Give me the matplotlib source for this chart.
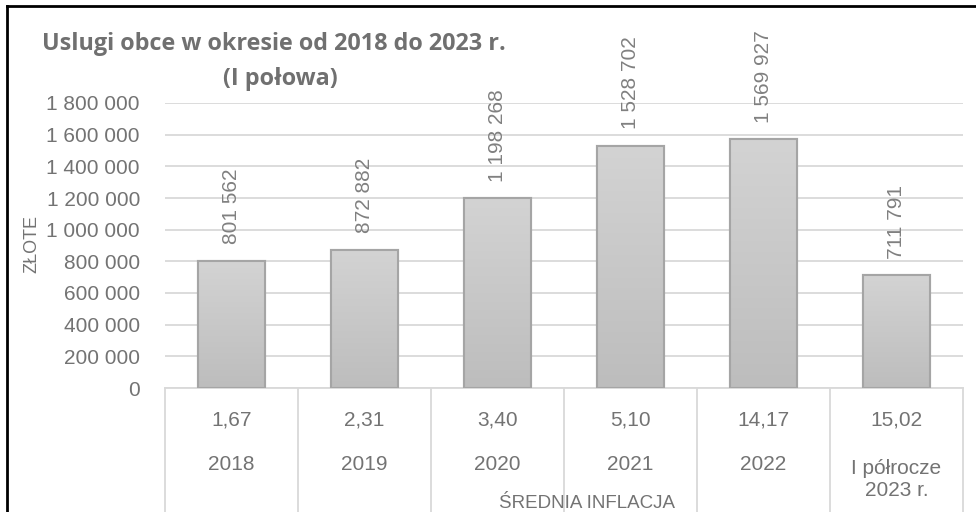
import matplotlib
matplotlib.use("Agg")
import matplotlib.pyplot as plt
import numpy as np
from matplotlib.lines import Line2D
from matplotlib.colors import LinearSegmentedColormap

categories = ["2018", "2019", "2020", "2021", "2022", "I półrocze\n2023 r."]
inflation = ["1,67", "2,31", "3,40", "5,10", "14,17", "15,02"]
values = [801562, 872882, 1198268, 1528702, 1569927, 711791]
yticks = [0, 200000, 400000, 600000, 800000, 1000000, 1200000, 1400000, 1600000, 1800000]

def fmt(v):
    return f"{v:,}".replace(",", " ")

W, H = 976, 512
fig = plt.figure(figsize=(W / 100, H / 100), dpi=100)
plt.rcParams['font.family'] = ['Liberation Sans', 'DejaVu Sans']

x0, x1 = 165, 963
y0, y1 = 388, 103
ax = fig.add_axes([x0 / W, 1 - y0 / H, (x1 - x0) / W, (y0 - y1) / H])
n = len(values)

grid_c = "#d9d9d9"
text_c = "#737373"
for t in yticks:
    ax.axhline(t, color=grid_c, lw=1.3, zorder=0)

xs = np.arange(n)
bars = ax.bar(xs, values, width=0.5, color="#c8c8c8", edgecolor="#a5a5a5", linewidth=1.5, zorder=2)
grad = np.linspace(0, 1, 100).reshape(-1, 1)
cmap = LinearSegmentedColormap.from_list("g", ["#bdbdbd", "#d3d3d3"])
for b in bars:
    bx, by, bw, bh = b.get_x(), b.get_y(), b.get_width(), b.get_height()
    im = ax.imshow(grad, extent=[bx, bx + bw, by, by + bh], origin="lower",
                   cmap=cmap, aspect="auto", zorder=2.5)
    im.set_clip_path(b)
    ax.add_patch(plt.Rectangle((bx, by), bw, bh, fill=False, edgecolor="#a5a5a5", lw=1.5, zorder=3))

for xi, v in zip(xs, values):
    ax.annotate(fmt(v), (xi, v), xytext=(0, 12), textcoords="offset points",
                rotation=90, ha="center", va="bottom", fontsize=15, color="#808080",
                annotation_clip=False, zorder=4)

ax.set_xlim(-0.5, n - 0.5)
ax.set_ylim(0, 1800000)
ax.set_yticks(yticks)
ax.set_yticklabels([fmt(t) for t in yticks], fontsize=15, color=text_c)
ax.tick_params(axis="y", length=0, pad=18)
ax.set_xticks([])
for s in ax.spines.values():
    s.set_visible(False)

# category table below
tr = ax.get_xaxis_transform()
ybot = -(H - y0) / (y0 - y1)
for b in np.arange(-0.5, n, 1.0):
    ax.add_line(Line2D([b, b], [0, ybot], transform=tr, color=grid_c, lw=1.3, clip_on=False))
ax.add_line(Line2D([-0.5, n - 0.5], [0, 0], transform=tr, color=grid_c, lw=1.3, clip_on=False))

def yfrac(py):
    return (y0 - py) / (y0 - y1)

for xi, inf, cat in zip(xs, inflation, categories):
    ax.text(xi, yfrac(420), inf, transform=tr, ha="center", va="center", fontsize=15, color=text_c)
    if "\n" in cat:
        a, b2 = cat.split("\n")
        ax.text(xi, yfrac(469), a, transform=tr, ha="center", va="center", fontsize=15, color=text_c)
        ax.text(xi, yfrac(490), b2, transform=tr, ha="center", va="center", fontsize=15, color=text_c)
    else:
        ax.text(xi, yfrac(465), cat, transform=tr, ha="center", va="center", fontsize=15, color=text_c)

fig.text(587 / W, 1 - 503 / H, "ŚREDNIA INFLACJA", ha="center", va="center", fontsize=13.5, color=text_c)
fig.text(32 / W, 1 - 244 / H, "ZŁOTE", rotation=90, ha="center", va="center", fontsize=13, color=text_c)

fig.text(274 / W, 1 - 44 / H, "Uslugi obce w okresie od 2018 do 2023 r.", ha="center", va="center",
         fontsize=16.8, fontweight="bold", color="#707070", family=["Open Sans", "DejaVu Sans"])
fig.text(280 / W, 1 - 79 / H, "(I połowa)", ha="center", va="center",
         fontsize=16.8, fontweight="bold", color="#707070", family=["Open Sans", "DejaVu Sans"])

# outer frame (left and top)
fig.add_artist(Line2D([7 / W, 7 / W], [0, 1 - 6 / H], transform=fig.transFigure, color="black", lw=2))
fig.add_artist(Line2D([7 / W, 1], [1 - 6 / H, 1 - 6 / H], transform=fig.transFigure, color="black", lw=2))

fig.savefig("out.png", dpi=100)
